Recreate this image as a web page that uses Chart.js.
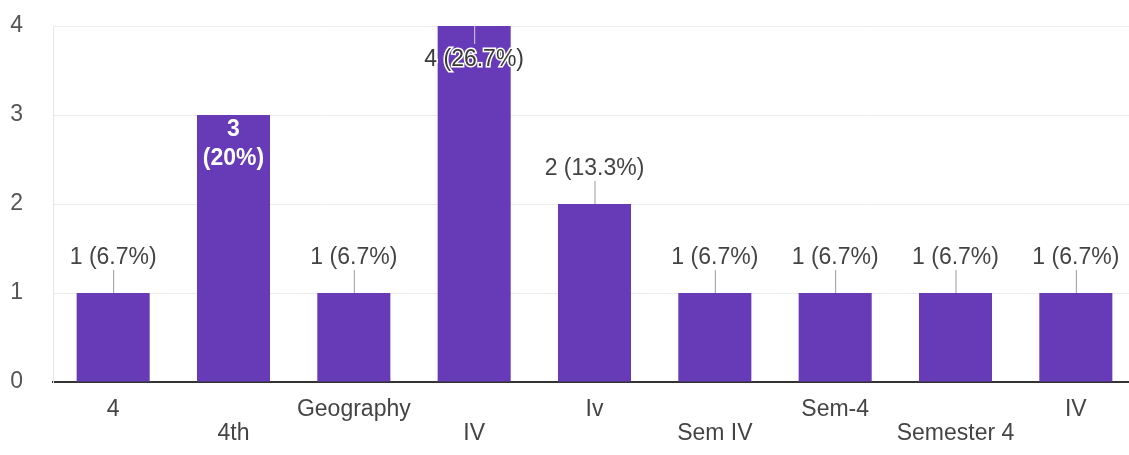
<!DOCTYPE html>
<html>
<head>
<meta charset="utf-8">
<script src="https://cdn.jsdelivr.net/npm/chart.js@4/dist/chart.umd.min.js"></script>
<style>
  html, body { margin: 0; padding: 0; background: #fff; overflow: hidden; }
  #wrap { width: 1136px; height: 455px; }
</style>
</head>
<body>
<div id="wrap"><canvas id="myChart" width="1136" height="455"></canvas></div>
<script>
// answers and how many picked each one
const categories = ['4', '4th', 'Geography', 'IV', 'Iv', 'Sem IV', 'Sem-4', 'Semester 4', 'IV'];
const counts = [1, 3, 1, 4, 2, 1, 1, 1, 1];
const yTicks = [0, 1, 2, 3, 4];
// where google put each value label
const labelPlacement = ['above', 'inside', 'above', 'top', 'above', 'above', 'above', 'above', 'above'];

const FONT = '"Liberation Sans", Arial, sans-serif';
const total = counts.reduce((a, b) => a + b, 0);

function pctText(v) {
    return parseFloat((v / total * 100).toFixed(1)) + '%';
}

// draws "n (x%)" labels with the little leader lines
const valueLabels = {
    id: 'valueLabels',
    afterDatasetsDraw(chart) {
        const ctx = chart.ctx;
        const meta = chart.getDatasetMeta(0);
        ctx.save();
        ctx.textAlign = 'center';
        ctx.textBaseline = 'middle';
        meta.data.forEach((bar, i) => {
            const v = counts[i];
            const mode = labelPlacement[i];
            const x = bar.x;
            const top = bar.y;
            if (mode === 'inside') {
                ctx.font = 'bold 23px ' + FONT;
                ctx.fillStyle = '#fff';
                ctx.fillText(String(v), x, top + 15);
                ctx.fillText('(' + pctText(v) + ')', x, top + 44);
            } else if (mode === 'top') {
                ctx.strokeStyle = '#d8d0ee';
                ctx.lineWidth = 1;
                ctx.beginPath();
                ctx.moveTo(x + 0.5, top);
                ctx.lineTo(x + 0.5, top + 18);
                ctx.stroke();
                ctx.font = '23px ' + FONT;
                ctx.lineWidth = 3;
                ctx.strokeStyle = '#fff';
                ctx.strokeText(v + ' (' + pctText(v) + ')', x, top + 34);
                ctx.fillStyle = '#3a3a3a';
                ctx.fillText(v + ' (' + pctText(v) + ')', x, top + 34);
            } else {
                ctx.strokeStyle = '#9a9a9a';
                ctx.lineWidth = 1;
                ctx.beginPath();
                ctx.moveTo(x + 0.5, top - 23);
                ctx.lineTo(x + 0.5, top);
                ctx.stroke();
                ctx.font = '23px ' + FONT;
                ctx.fillStyle = '#444';
                ctx.fillText(v + ' (' + pctText(v) + ')', x, top - 35);
            }
        });
        ctx.restore();
    }
};

var ctx = document.getElementById('myChart').getContext('2d');
var myChart = new Chart(ctx, {
    type: 'bar',
    data: {
        labels: categories,
        datasets: [{
            data: counts,
            backgroundColor: '#673ab7',
            borderWidth: 0,
            barPercentage: 0.607,
            categoryPercentage: 1
        }]
    },
    options: {
        responsive: false,
        animation: false,
        layout: { padding: { top: 26, right: 0, bottom: 0, left: 0 } },
        plugins: {
            legend: { display: false },
            tooltip: { enabled: false }
        },
        scales: {
            x: {
                grid: { display: false, drawTicks: false },
                border: { display: true, color: '#333', width: 2 },
                ticks: {
                    color: '#444',
                    padding: 16,
                    maxRotation: 0,
                    autoSkip: false,
                    font: { family: FONT, size: 23, lineHeight: '24px' },
                    // stagger labels over two rows like the original
                    callback: function(val, idx) {
                        const name = categories[idx];
                        return idx % 2 === 1 ? ['', name] : name;
                    }
                },
                afterFit: function(scale) {
                    scale.height = 73;
                    scale.paddingTop = 0;
                    scale.paddingBottom = 0;
                }
            },
            y: {
                min: 0,
                max: 4,
                afterBuildTicks: function(scale) {
                    scale.ticks = yTicks.map(v => ({ value: v }));
                },
                grid: { color: '#ececec', drawTicks: false },
                border: { display: true, color: '#e6e6e6' },
                ticks: {
                    color: '#555',
                    padding: 30,
                    font: { family: FONT, size: 23 }
                },
                afterFit: function(scale) {
                    scale.width = 53;
                    scale.paddingTop = 0;
                    scale.paddingBottom = 0;
                }
            }
        }
    },
    plugins: [valueLabels]
});
</script>
</body>
</html>
